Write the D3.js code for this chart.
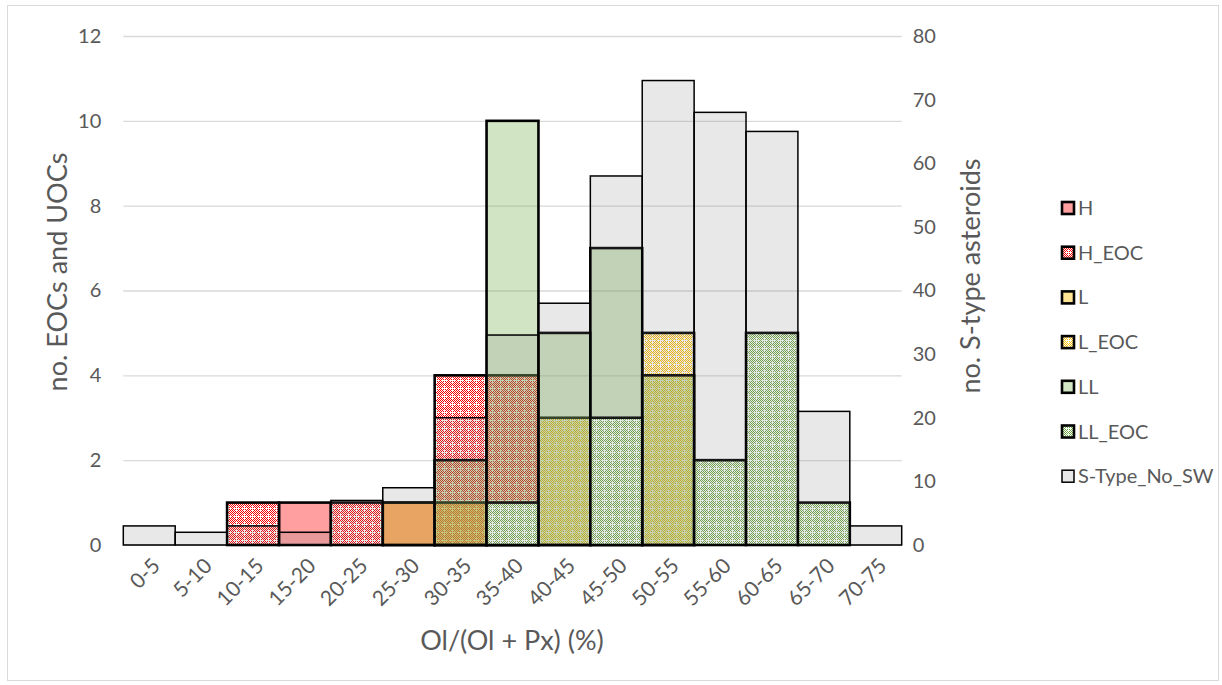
<!DOCTYPE html>
<html>
<head>
<meta charset="utf-8">
<script src="https://cdn.jsdelivr.net/npm/d3@7/dist/d3.min.js"></script>
<style>
  html, body { margin: 0; padding: 0; background: #fff; }
  svg { display: block; font-family: Lato, "Open Sans", sans-serif; }
</style>
</head>
<body>
<svg id="chart" width="1222" height="685"></svg>
<script>
const categories = ["0-5","5-10","10-15","15-20","20-25","25-30","30-35","35-40","40-45","45-50","50-55","55-60","60-65","65-70","70-75"];
const H      = [0,0,0,1,0,1,0,0,0,0,0,0,0,0,0];
const H_EOC  = [0,0,1,0,1,0,4,4,0,0,0,0,0,0,0];
const L      = [0,0,0,0,0,1,1,0,0,0,0,0,0,0,0];
const L_EOC  = [0,0,0,0,0,0,0,0,3,0,5,0,0,0,0];
const LL     = [0,0,0,0,0,0,2,10,5,7,4,0,0,0,0];
const LL_EOC = [0,0,0,0,0,0,0,1,0,3,0,2,5,1,0];
const S_Type_No_SW = [3,2,3,2,7,9,20,33,38,58,73,68,65,21,3];
const leftTicks = [0,2,4,6,8,10,12];
const rightTicks = [0,10,20,30,40,50,60,70,80];
const seriesNames = ["H","H_EOC","L","L_EOC","LL","LL_EOC","S-Type_No_SW"];

const svg = d3.select("#chart");
const defs = svg.append("defs");

function makePattern(id, color) {
  const p = defs.append("pattern").attr("id", id)
    .attr("patternUnits", "userSpaceOnUse").attr("width", 8).attr("height", 8);
  p.append("rect").attr("width", 8).attr("height", 8).attr("fill", "#fff");
  const cells = [];
  for (let i = 0; i < 8; i++) for (let j = 0; j < 8; j++) {
    if ((i + j) % 2 !== 0) continue;
    const inPlus = (i === 4 && j >= 2 && j <= 6) || (j === 4 && i >= 2 && i <= 6);
    if (inPlus) continue;
    cells.push([i, j]);
  }
  p.selectAll("rect.c").data(cells).join("rect").attr("class", "c")
    .attr("x", d => d[0]).attr("y", d => d[1]).attr("width", 1).attr("height", 1)
    .attr("fill", color).attr("shape-rendering", "crispEdges");
}
makePattern("pH", "#FF0000");
makePattern("pL", "#FFC000");
makePattern("pLL", "#70AD47");

const textColor = "#595959";

svg.append("rect").attr("x", 7.5).attr("y", 5.5).attr("width", 1211).attr("height", 675)
  .attr("fill", "none").attr("stroke", "#D9D9D9").attr("stroke-width", 1);

const x = d3.scaleBand().domain(categories).range([123.3, 901.7]).padding(0);
const yL = d3.scaleLinear().domain([0, 12]).range([545, 36]);
const yR = d3.scaleLinear().domain([0, 80]).range([545, 36]);

svg.append("g").attr("transform", "translate(123.3,0)")
  .call(d3.axisLeft(yL).tickValues(leftTicks.slice(1)).tickSize(-(901.7 - 123.3)).tickFormat(""))
  .call(g => g.select(".domain").remove())
  .call(g => g.selectAll("line").attr("stroke", "#D9D9D9").attr("stroke-width", 1.3));

svg.append("line").attr("x1", 123.3).attr("x2", 901.7).attr("y1", 545).attr("y2", 545)
  .attr("stroke", "#BFBFBF").attr("stroke-width", 1.3);

const series = [
  { name: "H", vals: H, fill: "rgba(255,80,80,0.55)", axis: yL, sw: 2.6 },
  { name: "H_EOC", vals: H_EOC, fill: "url(#pH)", axis: yL, sw: 2.6 },
  { name: "L", vals: L, fill: "rgba(255,192,0,0.42)", axis: yL, sw: 2.6 },
  { name: "L_EOC", vals: L_EOC, fill: "url(#pL)", axis: yL, sw: 2.6 },
  { name: "LL", vals: LL, fill: "rgba(112,173,71,0.32)", axis: yL, sw: 2.6 },
  { name: "LL_EOC", vals: LL_EOC, fill: "url(#pLL)", axis: yL, sw: 2.6 },
  { name: "S-Type_No_SW", vals: S_Type_No_SW, fill: "rgba(128,128,128,0.18)", axis: yR, sw: 1.5 }
];

series.forEach(s => {
  const data = categories.map((c, i) => ({ c, v: s.vals[i] })).filter(d => d.v > 0);
  svg.append("g").selectAll("rect").data(data).join("rect")
    .attr("x", d => x(d.c))
    .attr("width", x.bandwidth())
    .attr("y", d => s.axis(d.v))
    .attr("height", d => s.axis(0) - s.axis(d.v))
    .attr("fill", s.fill)
    .attr("stroke", "#000")
    .attr("stroke-width", s.sw);
});

svg.append("g").attr("transform", "translate(123.3,0)")
  .call(d3.axisLeft(yL).tickValues(leftTicks).tickSize(0).tickPadding(22))
  .call(g => g.select(".domain").remove())
  .call(g => g.selectAll("text").attr("fill", textColor).style("font-size", "20px")
    .style("font-family", "Lato, sans-serif"));

svg.append("g").attr("transform", "translate(901.7,0)")
  .call(d3.axisRight(yR).tickValues(rightTicks).tickSize(0).tickPadding(11))
  .call(g => g.select(".domain").remove())
  .call(g => g.selectAll("text").attr("fill", textColor).style("font-size", "20px")
    .style("font-family", "Lato, sans-serif"));

svg.append("g").attr("transform", "translate(0,545)")
  .call(d3.axisBottom(x).tickSize(0).tickPadding(0))
  .call(g => g.select(".domain").remove())
  .call(g => g.selectAll("text")
    .attr("fill", textColor).style("font-size", "21px").style("font-family", "Lato, sans-serif")
    .attr("text-anchor", "end").attr("dy", "0.35em")
    .attr("transform", "translate(7,17) rotate(-45)"));

svg.append("text").attr("transform", "translate(67,272) rotate(-90)")
  .attr("text-anchor", "middle").attr("fill", textColor).style("font-size", "27px")
  .text("no. EOCs and UOCs");
svg.append("text").attr("transform", "translate(980,276) rotate(-90)")
  .attr("text-anchor", "middle").attr("fill", textColor).style("font-size", "27px")
  .text("no. S-type asteroids");
svg.append("text").attr("x", 512).attr("y", 650)
  .attr("text-anchor", "middle").attr("fill", textColor).style("font-size", "27px")
  .text("Ol/(Ol + Px) (%)");

const legendFills = {};
series.forEach(s => legendFills[s.name] = s.fill);
const lg = svg.append("g");
seriesNames.forEach((n, i) => {
  const cy = 208 + i * 44.7;
  lg.append("rect").attr("x", 1062).attr("y", cy - 6).attr("width", 12).attr("height", 12)
    .attr("fill", legendFills[n]).attr("stroke", "#000").attr("stroke-width", n === "S-Type_No_SW" ? 1.5 : 2.6);
  lg.append("text").attr("x", 1078).attr("y", cy).attr("dy", "0.35em")
    .attr("fill", textColor).style("font-size", "20px").text(n);
});
</script>
</body>
</html>
